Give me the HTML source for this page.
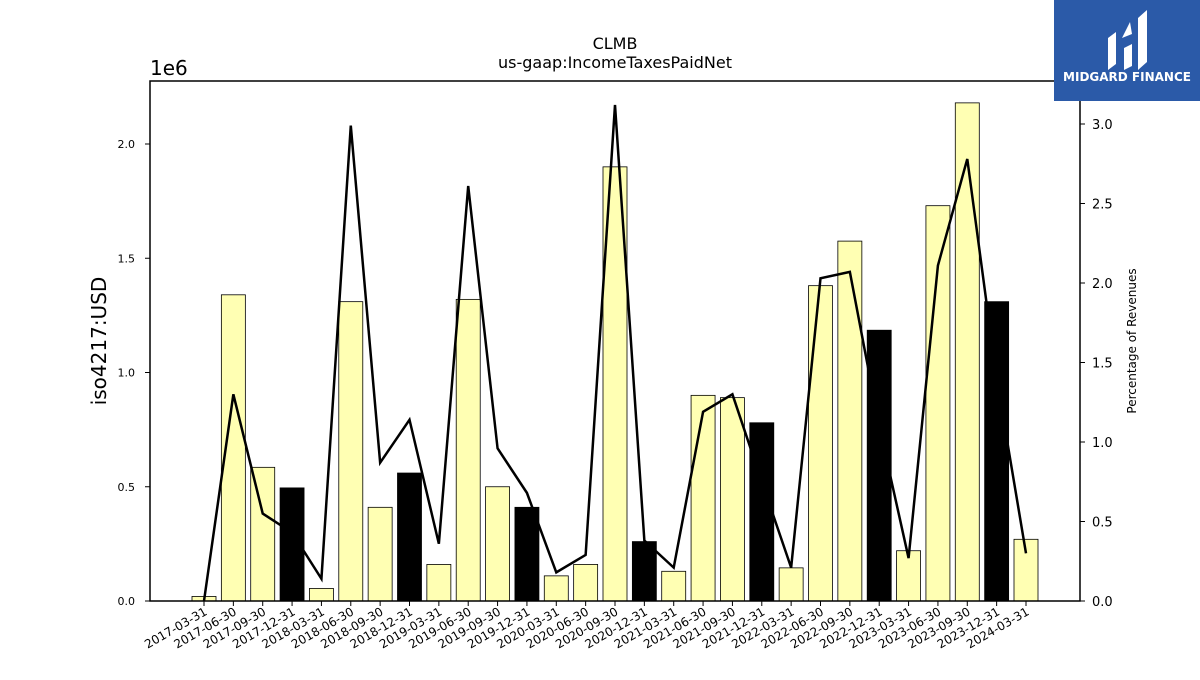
<!DOCTYPE html>
<html><head><meta charset="utf-8"><style>
body{margin:0;background:#fff;width:1200px;height:675px;overflow:hidden;font-family:"Liberation Sans","DejaVu Sans",sans-serif}
</style></head><body>
<svg id="chart" width="1200" height="675" xmlns="http://www.w3.org/2000/svg" font-family="DejaVu Sans, Liberation Sans, sans-serif">
<text x="615" y="49" text-anchor="middle" font-size="16">CLMB</text>
<text x="615" y="68" text-anchor="middle" font-size="16">us-gaap:IncomeTaxesPaidNet</text>
<text x="150" y="75" font-size="20">1e6</text>
<text transform="translate(106,341) rotate(-90)" text-anchor="middle" font-size="20">iso4217:USD</text>
<text transform="translate(1136,341) rotate(-90)" text-anchor="middle" font-size="12">Percentage of Revenues</text>
<g id="plot"></g>
<rect x="150" y="81" width="930" height="520" fill="none" stroke="#000" stroke-width="1.5"/>
<g>
<rect x="1054" y="0" width="146" height="101" fill="#2b5aa8"/>
<path d="M1108 70 L1108 38 L1116 32 L1116 64 Z M1124 70 L1124 48 L1132 44 L1132 66 Z M1138 70 L1138 18 L1147 10 L1147 62 Z M1122 38 L1130 22 L1132 34 Z" fill="#fff"/>
<text x="1127" y="81" text-anchor="middle" font-size="12" font-weight="bold" fill="#fff">MIDGARD FINANCE</text>
</g>
</svg>
<script>
const categories=["2017-03-31","2017-06-30","2017-09-30","2017-12-31","2018-03-31","2018-06-30","2018-09-30","2018-12-31","2019-03-31","2019-06-30","2019-09-30","2019-12-31","2020-03-31","2020-06-30","2020-09-30","2020-12-31","2021-03-31","2021-06-30","2021-09-30","2021-12-31","2022-03-31","2022-06-30","2022-09-30","2022-12-31","2023-03-31","2023-06-30","2023-09-30","2023-12-31","2024-03-31"];
const taxValues=[0.02,1.34,0.585,0.495,0.055,1.31,0.41,0.56,0.16,1.32,0.50,0.41,0.11,0.16,1.90,0.26,0.13,0.90,0.89,0.78,0.145,1.38,1.575,1.185,0.22,1.73,2.18,1.31,0.27];
const pctValues=[0.0,1.30,0.55,0.43,0.14,2.99,0.87,1.14,0.36,2.61,0.96,0.68,0.18,0.29,3.12,0.38,0.21,1.19,1.30,0.75,0.21,2.03,2.07,1.1,0.27,2.11,2.78,1.4,0.30];
const leftTicks=[0,0.5,1.0,1.5,2.0];
const rightTicks=[0,0.5,1.0,1.5,2.0,2.5,3.0];
const NS="http://www.w3.org/2000/svg";
const g=document.getElementById('plot');
const x=i=>204+i*(1026-204)/(categories.length-1);
const yL=v=>601-v*228.5;
const yR=v=>601-v*159;
function mk(t,a){const e=document.createElementNS(NS,t);for(const k in a)e.setAttribute(k,a[k]);g.appendChild(e);return e;}
leftTicks.forEach(v=>{
 const l=mk('line',{x1:145,x2:150,y1:yL(v),y2:yL(v),stroke:'#000'});
 
 
 const t=mk('text',{x:135,y:yL(v)+4,'text-anchor':'end','font-size':11});
 t.textContent=v.toFixed(1);
 
 
});
rightTicks.forEach(v=>{
 const l=mk('line',{x1:1080,x2:1085,y1:yR(v),y2:yR(v),stroke:'#000'});
 
 
 const t=mk('text',{x:1092,y:yR(v)+5,'font-size':13});
 t.textContent=v.toFixed(1);
 
 
});
function bar(i){
 const black=categories[i].endsWith('12-31');
 const r=mk('rect',{x:x(i)-12,y:yL(taxValues[i]),width:24,height:601-yL(taxValues[i]),fill:black?'#000':'#ffffb3',stroke:'#000','stroke-width':0.8});
 
 
}
categories.forEach((c,i)=>{
 if(!c.endsWith('12-31'))bar(i);
 const l=mk('line',{x1:x(i),x2:x(i),y1:601,y2:606,stroke:'#000'});
 
 
 const t=mk('text',{transform:`translate(${x(i)+4},${614}) rotate(-30)`,'text-anchor':'end','font-size':12});
 t.textContent=c;
 
 
});
const p=mk('polyline',{points:pctValues.map((v,i)=>x(i)+','+yR(v)).join(' '),fill:'none',stroke:'#000','stroke-width':2.5});


categories.forEach((c,i)=>{if(c.endsWith('12-31'))bar(i);});
</script>
</body></html>
